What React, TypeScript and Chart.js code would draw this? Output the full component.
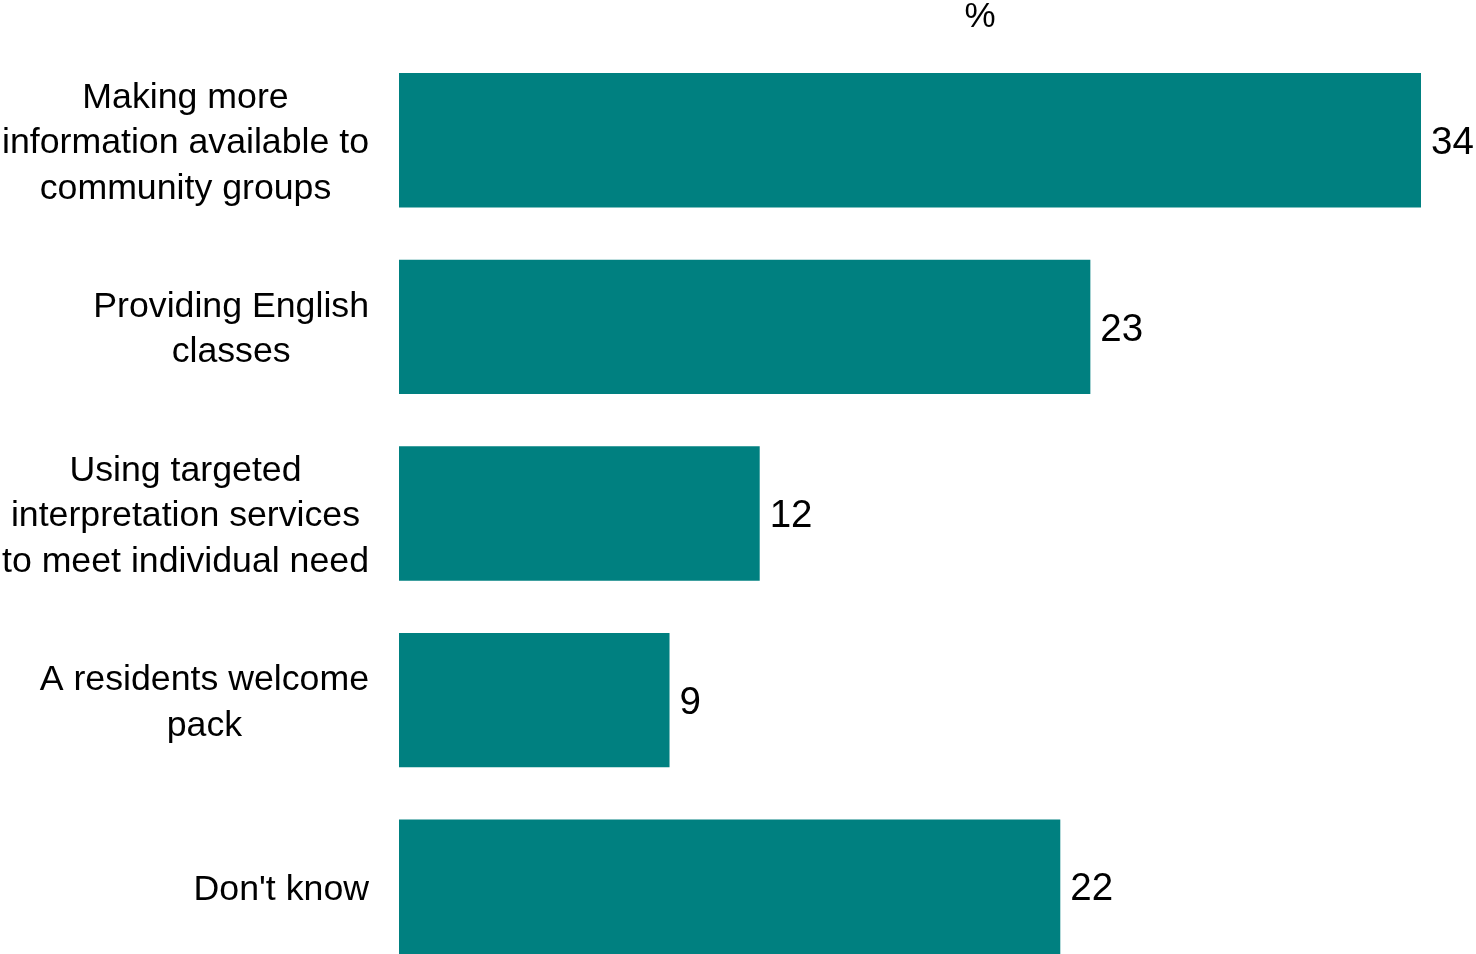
import React, { useEffect, useRef } from "react";
import { Chart, registerables } from "chart.js";

Chart.register(...registerables);

const categories: string[][] = [
  ["Making more", "information available to", "community groups"],
  ["Providing English", "classes"],
  ["Using targeted", "interpretation services", "to meet individual need"],
  ["A residents welcome", "pack"],
  ["Don't know"],
];
const values: number[] = [34, 23, 12, 9, 22];
const axisUnit = "%";

const FONT = '"Liberation Sans", Arial, sans-serif';

const labelsPlugin = {
  id: "customLabels",
  afterDatasetsDraw(chart: any) {
    const ctx = chart.ctx as CanvasRenderingContext2D;
    const yScale = chart.scales.y;
    const meta = chart.getDatasetMeta(0);
    ctx.save();
    ctx.fillStyle = "#000";
    // category labels: block right-aligned, lines centered within block
    ctx.font = `35.7px ${FONT}`;
    ctx.textBaseline = "middle";
    ctx.textAlign = "center";
    const rightEdge = chart.chartArea.left - 30;
    const lineH = 45.5;
    categories.forEach((lines, i) => {
      const yc = yScale.getPixelForValue(i) + 3;
      const maxW = Math.max(...lines.map((l) => ctx.measureText(l).width));
      const cx = rightEdge - maxW / 2;
      const y0 = yc - ((lines.length - 1) * lineH) / 2;
      lines.forEach((l, k) => ctx.fillText(l, cx, y0 + k * lineH));
    });
    // value labels
    ctx.font = `38.5px ${FONT}`;
    ctx.textAlign = "left";
    meta.data.forEach((bar: any, i: number) => {
      ctx.fillText(String(values[i]), bar.x + 10, bar.y + 3);
    });
    // unit label
    ctx.font = `35px ${FONT}`;
    ctx.textAlign = "center";
    ctx.fillText(axisUnit, 980, 17);
    ctx.restore();
  },
};

export default function App() {
  const ref = useRef<HTMLCanvasElement | null>(null);
  useEffect(() => {
    if (!ref.current) return;
    const chart = new Chart(ref.current, {
      type: "bar",
      data: {
        labels: categories.map((c) => c.join(" ")),
        datasets: [
          {
            data: values,
            backgroundColor: "#008080",
            borderWidth: 0,
            categoryPercentage: 1,
            barPercentage: 0.72,
          },
        ],
      },
      options: {
        indexAxis: "y",
        animation: false,
        responsive: false,
        maintainAspectRatio: false,
        layout: { padding: { left: 399, right: 55, top: 47, bottom: 10 } },
        plugins: { legend: { display: false }, tooltip: { enabled: false } },
        scales: {
          x: { display: false, min: 0, max: 34, grid: { display: false } },
          y: { display: false, grid: { display: false } },
        },
      },
      plugins: [labelsPlugin],
    });
    return () => chart.destroy();
  }, []);
  return (
    <div style={{ position: "fixed", left: 0, top: 0, width: 1476, height: 954, overflow: "hidden", background: "#fff" }}>
      <canvas ref={ref} width={1476} height={990} style={{ display: "block", width: 1476, height: 990 }} />
    </div>
  );
}
